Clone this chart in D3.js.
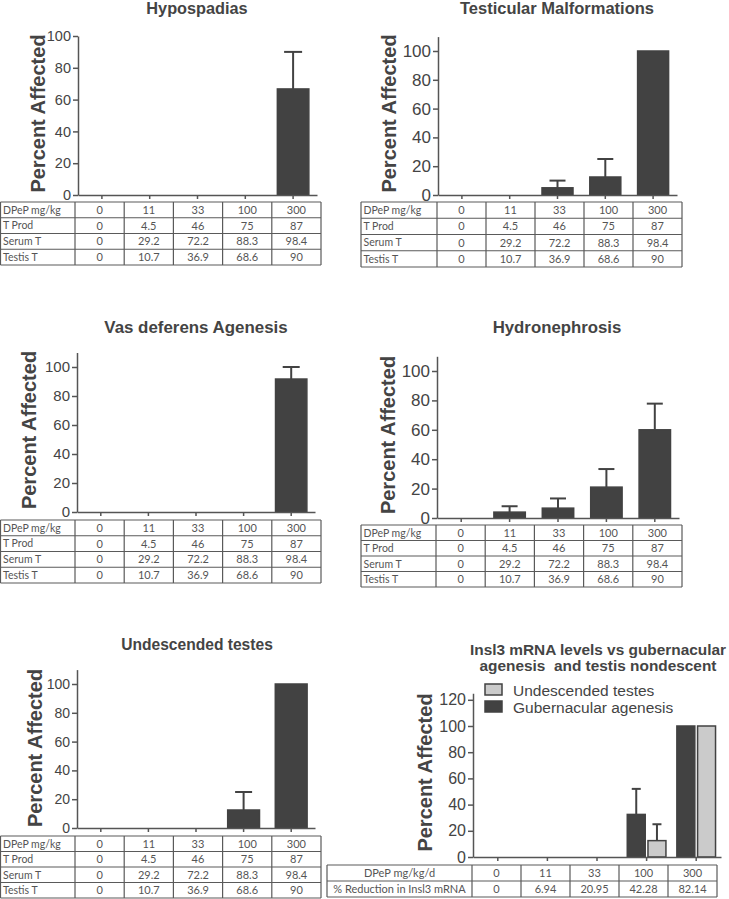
<!DOCTYPE html>
<html><head><meta charset="utf-8">
<script src="https://cdn.jsdelivr.net/npm/d3@7"></script>
<style>body{margin:0;background:#fff} svg{display:block}</style>
</head><body>
<svg id="chart" width="729" height="899"></svg>
<script>
// ---------- data ----------
const doses = ["0","11","33","100","300"];
const tableRowLabels = ["DPeP mg/kg","T Prod","Serum T","Testis T"];
const tProd = ["0","4.5","46","75","87"];
const serumT = ["0","29.2","72.2","88.3","98.4"];
const testisT = ["0","10.7","36.9","68.6","90"];
const insl3RowLabels = ["DPeP mg/kg/d","% Reduction in Insl3 mRNA"];
const insl3Reduction = ["0","6.94","20.95","42.28","82.14"];

const hypospadiasMean = [0,0,0,0,66.7];
const hypospadiasSem  = [0,0,0,0,23.3];
const testicularMean  = [0,0,5,12.5,100];
const testicularSem   = [0,0,5,12.5,0];
const vasMean         = [0,0,0,0,91.7];
const vasSem          = [0,0,0,0,8.3];
const hydroMean       = [0,4,6.7,21,60];
const hydroSem        = [0,4,6.6,12.3,17.8];
const undescMean      = [0,0,0,12.5,100];
const undescSem       = [0,0,0,12.5,0];
const gubernMean      = [0,0,0,32.5,100];
const gubernSem       = [0,0,0,19.5,0];

const yTicks100 = [0,20,40,60,80,100];
const yTicks120 = [0,20,40,60,80,100,120];
const legendLabels = ["Undescended testes","Gubernacular agenesis"];
const yLabel = "Percent Affected";

// ---------- style ----------
const DARK = "#424242", LIGHT = "#cbcbcb", INK = "#444", AXIS = "#555";
const SANS = "'Liberation Sans', Arial, sans-serif";
const TABLEFONT = "Lato, 'Open Sans', sans-serif";

const svg = d3.select("#chart");

const panels = [
  {title:["Hypospadias"], titleSize:16.3, tx:197, ty:[14], ax:78, xEnd:317, y0:195, yMax:100, yTop:36, ticks:yTicks100, tickFont:14.5,
   labX:38, labY:113.5, pad:0.31, cap:18,
   series:[{mean:hypospadiasMean, sem:hypospadiasSem, fill:DARK}],
   table:{left:0.5, first:75, colW:49.2, top:202, rowH:15.75, labels:tableRowLabels, rows:[doses,tProd,serumT,testisT], align:"left"}},
  {title:["Testicular Malformations"], titleSize:16.5, tx:557, ty:[14], ax:438, xEnd:677, y0:195, yMax:110, yTop:36.6, ticks:yTicks100, tickFont:17,
   labX:389, labY:113.5, pad:0.32, cap:16,
   series:[{mean:testicularMean, sem:testicularSem, fill:DARK}],
   table:{left:361, first:437, colW:49, top:202, rowH:16.25, labels:tableRowLabels, rows:[doses,tProd,serumT,testisT], align:"left"}},
  {title:["Vas deferens Agenesis"], titleSize:16.9, tx:196, ty:[333], ax:77, xEnd:315, y0:512, yMax:110, yTop:352.5, ticks:yTicks100, tickFont:15,
   labX:29, labY:430, pad:0.31, cap:17,
   series:[{mean:vasMean, sem:vasSem, fill:DARK}],
   table:{left:0.5, first:75, colW:49.2, top:520, rowH:15.75, labels:tableRowLabels, rows:[doses,tProd,serumT,testisT], align:"left"}},
  {title:["Hydronephrosis"], titleSize:16.8, tx:557, ty:[333], ax:437, xEnd:679, y0:518, yMax:110, yTop:356.3, ticks:yTicks100, tickFont:17,
   labX:388, labY:435, pad:0.32, cap:16,
   series:[{mean:hydroMean, sem:hydroSem, fill:DARK}],
   table:{left:361, first:436, colW:49.2, top:525, rowH:15.5, labels:tableRowLabels, rows:[doses,tProd,serumT,testisT], align:"left"}},
  {title:["Undescended testes"], titleSize:15.6, tx:197, ty:[650], ax:77, xEnd:315, y0:828, yMax:110, yTop:669.6, ticks:yTicks100, tickFont:14,
   labX:35, labY:748, pad:0.30, cap:17,
   series:[{mean:undescMean, sem:undescSem, fill:DARK}],
   table:{left:0.5, first:75, colW:49.2, top:836, rowH:15.5, labels:tableRowLabels, rows:[doses,tProd,serumT,testisT], align:"left"}},
  {title:["Insl3 mRNA levels vs gubernacular","agenesis  and testis nondescent"], titleSize:15.4, tx:598, ty:[655,671], ax:473, xEnd:721, y0:857, yMax:125, yTop:693.25, ticks:yTicks120, tickFont:16,
   labX:425, labY:772.5, pad:0.19, cap:9, subPad:0.06,
   series:[{mean:gubernMean, sem:gubernSem, fill:DARK},
           {mean:undescMean, sem:undescSem, fill:LIGHT}],
   legend:{x:485, y:684, step:17, font:15.5, items:[{label:legendLabels[0], fill:LIGHT},{label:legendLabels[1], fill:DARK}]},
   table:{left:327, first:472, colW:49, top:865, rowH:16, labels:insl3RowLabels, rows:[doses,insl3Reduction], align:"middle"}}
];

panels.forEach(drawPanel);

function drawPanel(cfg){
  const g = svg.append("g");
  const y = d3.scaleLinear().domain([0,cfg.yMax]).range([cfg.y0, cfg.yTop]);
  const x = d3.scaleBand().domain(doses).range([cfg.ax, cfg.xEnd])
    .paddingInner(cfg.pad).paddingOuter(cfg.pad/2);

  // title
  const t = g.append("text").attr("x", cfg.tx).attr("text-anchor","middle")
    .attr("font-family",SANS).attr("font-weight","bold").attr("font-size",cfg.titleSize).attr("fill",INK)
    .style("white-space","pre");
  cfg.title.forEach((line,i)=>{
    t.append("tspan").attr("x",cfg.tx).attr("y",cfg.ty[i]).style("white-space","pre").text(line);
  });

  // y label
  g.append("text")
    .attr("transform",`translate(${cfg.labX},${cfg.labY}) rotate(-90)`)
    .attr("text-anchor","middle").attr("dy","0.36em")
    .attr("font-family",SANS).attr("font-weight","bold").attr("font-size",20).attr("fill",INK)
    .text(yLabel);

  // bars
  const sub = d3.scaleBand().domain(d3.range(cfg.series.length)).range([0, x.bandwidth()])
    .paddingInner(cfg.subPad || 0);
  cfg.series.forEach((s,si)=>{
    const data = doses.map((d,i)=>({dose:d, mean:s.mean[i], sem:s.sem[i]}));
    const sg = g.append("g");
    const eb = data.filter(d=>d.sem>0);
    const cx = d => x(d.dose) + sub(si) + sub.bandwidth()/2;
    sg.selectAll("line.eb").data(eb).join("line")
      .attr("x1",cx).attr("x2",cx)
      .attr("y1",d=>y(d.mean)).attr("y2",d=>y(d.mean+d.sem))
      .attr("stroke",DARK).attr("stroke-width",2);
    sg.selectAll("line.cap").data(eb).join("line")
      .attr("x1",d=>cx(d)-cfg.cap/2).attr("x2",d=>cx(d)+cfg.cap/2)
      .attr("y1",d=>y(d.mean+d.sem)).attr("y2",d=>y(d.mean+d.sem))
      .attr("stroke",DARK).attr("stroke-width",2);
    sg.selectAll("rect").data(data.filter(d=>d.mean>0)).join("rect")
      .attr("x",d=>x(d.dose)+sub(si)+0.75)
      .attr("width",sub.bandwidth()-1.5)
      .attr("y",d=>y(d.mean))
      .attr("height",d=>y(0)-y(d.mean))
      .attr("fill",s.fill).attr("stroke",DARK).attr("stroke-width",1.5);
  });

  // axes
  const yAxis = d3.axisLeft(y).tickValues(cfg.ticks).tickSize(5).tickSizeOuter(0).tickPadding(2)
    .tickFormat(d3.format("d"));
  const ya = g.append("g").attr("transform",`translate(${cfg.ax},0)`).call(yAxis);
  ya.select(".domain").attr("stroke",AXIS).attr("stroke-width",1.5);
  ya.selectAll(".tick line").attr("stroke",AXIS).attr("stroke-width",1.5);
  ya.selectAll(".tick text").attr("font-family",SANS).attr("font-size",cfg.tickFont).attr("fill",INK);

  const xAxis = d3.axisBottom(x).tickSize(4).tickSizeOuter(0).tickFormat("");
  const xa = g.append("g").attr("transform",`translate(0,${cfg.y0})`).call(xAxis);
  xa.select(".domain").attr("stroke",AXIS).attr("stroke-width",1.5);
  xa.selectAll(".tick line").attr("stroke",AXIS).attr("stroke-width",1.5);

  // legend
  if (cfg.legend){
    const L = cfg.legend;
    const lg = g.append("g");
    L.items.forEach((it,i)=>{
      lg.append("rect").attr("x",L.x).attr("y",L.y+i*L.step).attr("width",17).attr("height",11)
        .attr("fill",it.fill).attr("stroke",DARK).attr("stroke-width",1.5);
      lg.append("text").attr("x",L.x+28).attr("y",L.y+11.5+i*L.step)
        .attr("font-family",SANS).attr("font-size",L.font).attr("fill",INK).text(it.label);
    });
  }

  drawTable(cfg.table);
}

function drawTable(T){
  const g = svg.append("g");
  const nCols = doses.length;
  const right = T.first + nCols*T.colW;
  const nRows = T.rows.length;
  const bottom = T.top + nRows*T.rowH;
  const colEdges = [T.left, T.first].concat(d3.range(1,nCols+1).map(i=>T.first+i*T.colW));
  const rowEdges = d3.range(nRows+1).map(i=>T.top+i*T.rowH);
  g.selectAll("line.v").data(colEdges).join("line")
    .attr("x1",d=>d).attr("x2",d=>d).attr("y1",T.top).attr("y2",bottom)
    .attr("stroke","#5a5a5a").attr("stroke-width",1.2);
  g.selectAll("line.h").data(rowEdges).join("line")
    .attr("x1",T.left).attr("x2",right).attr("y1",d=>d).attr("y2",d=>d)
    .attr("stroke","#5a5a5a").attr("stroke-width",1.2);
  T.rows.forEach((row,ri)=>{
    const cy = T.top + (ri+0.5)*T.rowH;
    g.append("text")
      .attr("x", T.align==="left" ? T.left+2.5 : (T.left+T.first)/2)
      .attr("y",cy).attr("dy","0.36em")
      .attr("text-anchor", T.align==="left" ? "start" : "middle")
      .attr("font-family",TABLEFONT).attr("font-size",T.align==="left" ? 10.5 : 11).attr("fill","#555")
      .text(T.labels[ri]);
    g.selectAll(null).data(row).join("text")
      .attr("x",(d,i)=>T.first+(i+0.5)*T.colW).attr("y",cy).attr("dy","0.36em")
      .attr("text-anchor","middle")
      .attr("font-family",TABLEFONT).attr("font-size",11).attr("fill","#555")
      .text(d=>d);
  });
}
</script>
</body></html>
